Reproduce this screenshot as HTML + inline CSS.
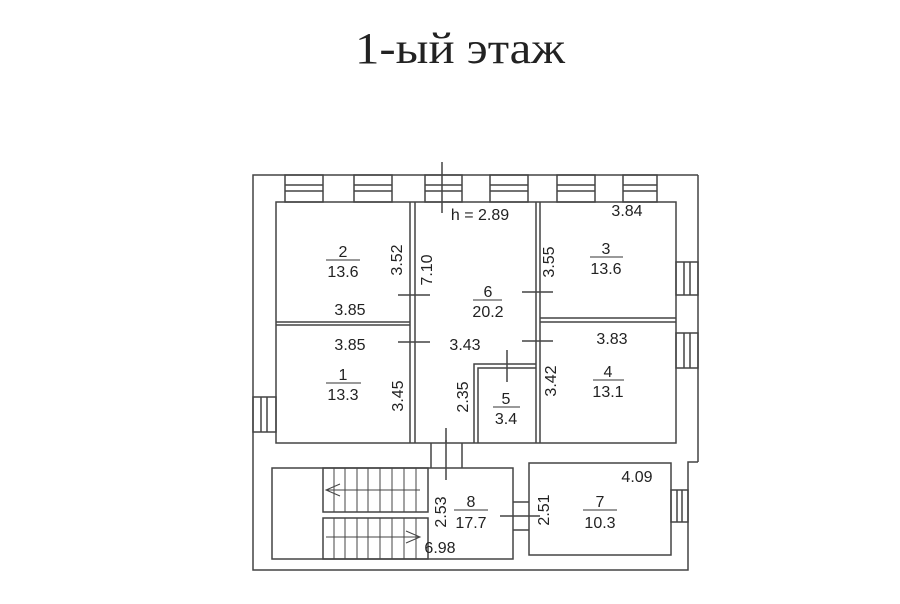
<!DOCTYPE html>
<html><head><meta charset="utf-8"><style>
html,body{margin:0;padding:0;background:#fff;}
svg{display:block;}
text{font-family:"Liberation Sans",sans-serif;fill:#222;}
</style></head><body>
<svg width="900" height="604" viewBox="0 0 900 604" xmlns="http://www.w3.org/2000/svg">
<rect width="900" height="604" fill="#fff"/>
<text x="355" y="63" style="font-family:'Liberation Serif',serif" font-size="44" textLength="210" lengthAdjust="spacingAndGlyphs" fill="#333">1-ый этаж</text>
<g stroke="#444" stroke-width="1.5" fill="none">
<polyline points="698,175 253,175 253,570 688,570 688,462 698,462"/>
<line x1="698" y1="175" x2="698" y2="462"/>
<rect x="276" y="202" width="400" height="241"/>
<line x1="410" y1="202" x2="410" y2="443"/><line x1="415" y1="202" x2="415" y2="443"/>
<line x1="536" y1="202" x2="536" y2="443"/><line x1="540" y1="202" x2="540" y2="443"/>
<line x1="276" y1="322" x2="410" y2="322"/><line x1="276" y1="325" x2="410" y2="325"/>
<line x1="540" y1="318" x2="676" y2="318"/><line x1="540" y1="322" x2="676" y2="322"/>
<polyline points="474,443 474,364 536,364"/>
<polyline points="478,443 478,368 536,368"/>
<g>
<rect x="285" y="175" width="38" height="27"/><line x1="285" y1="185" x2="323" y2="185"/><line x1="285" y1="191" x2="323" y2="191"/>
<rect x="354" y="175" width="38" height="27"/><line x1="354" y1="185" x2="392" y2="185"/><line x1="354" y1="191" x2="392" y2="191"/>
<rect x="425" y="175" width="37" height="27"/><line x1="425" y1="185" x2="462" y2="185"/><line x1="425" y1="191" x2="462" y2="191"/>
<rect x="490" y="175" width="38" height="27"/><line x1="490" y1="185" x2="528" y2="185"/><line x1="490" y1="191" x2="528" y2="191"/>
<rect x="557" y="175" width="38" height="27"/><line x1="557" y1="185" x2="595" y2="185"/><line x1="557" y1="191" x2="595" y2="191"/>
<rect x="623" y="175" width="34" height="27"/><line x1="623" y1="185" x2="657" y2="185"/><line x1="623" y1="191" x2="657" y2="191"/>
</g>
<rect x="676" y="262" width="22" height="33"/><line x1="684" y1="262" x2="684" y2="295"/><line x1="690" y1="262" x2="690" y2="295"/>
<rect x="676" y="333" width="22" height="35"/><line x1="684" y1="333" x2="684" y2="368"/><line x1="690" y1="333" x2="690" y2="368"/>
<rect x="253" y="397" width="23" height="35"/><line x1="261" y1="397" x2="261" y2="432"/><line x1="267" y1="397" x2="267" y2="432"/>
<rect x="671" y="490" width="17" height="32"/><line x1="677" y1="490" x2="677" y2="522"/><line x1="682" y1="490" x2="682" y2="522"/>
<line x1="431" y1="443" x2="431" y2="468"/><line x1="462" y1="443" x2="462" y2="468"/>
<line x1="446" y1="440" x2="446" y2="480"/>
<line x1="442" y1="162" x2="442" y2="213"/>
<rect x="272" y="468" width="241" height="91"/>
<rect x="323" y="468" width="105" height="44"/>
<rect x="323" y="518" width="105" height="41"/>
<g stroke-width="1">
<line x1="334" y1="468" x2="334" y2="512"/><line x1="345" y1="468" x2="345" y2="512"/><line x1="357" y1="468" x2="357" y2="512"/><line x1="368" y1="468" x2="368" y2="512"/><line x1="380" y1="468" x2="380" y2="512"/><line x1="392" y1="468" x2="392" y2="512"/><line x1="404" y1="468" x2="404" y2="512"/><line x1="416" y1="468" x2="416" y2="512"/>
<line x1="334" y1="518" x2="334" y2="559"/><line x1="345" y1="518" x2="345" y2="559"/><line x1="357" y1="518" x2="357" y2="559"/><line x1="368" y1="518" x2="368" y2="559"/><line x1="380" y1="518" x2="380" y2="559"/><line x1="392" y1="518" x2="392" y2="559"/><line x1="404" y1="518" x2="404" y2="559"/><line x1="416" y1="518" x2="416" y2="559"/>
<line x1="326" y1="490" x2="420" y2="490"/><polyline points="340,484 326,490 340,496"/>
<line x1="326" y1="537" x2="420" y2="537"/><polyline points="406,531 420,537 406,543"/>
</g>
<rect x="529" y="463" width="142" height="92"/>
<line x1="513" y1="502" x2="529" y2="502"/><line x1="513" y1="530" x2="529" y2="530"/>
<line x1="500" y1="516" x2="540" y2="516"/>
<line x1="398" y1="295" x2="430" y2="295"/><line x1="522" y1="292" x2="553" y2="292"/>
<line x1="398" y1="342" x2="430" y2="342"/><line x1="522" y1="341" x2="553" y2="341"/>
<line x1="507" y1="350" x2="507" y2="382"/><line x1="446" y1="428" x2="446" y2="443"/>
</g>
<g stroke="#333" stroke-width="1">
<line x1="326" y1="260" x2="360" y2="260"/><line x1="473" y1="300" x2="502" y2="300"/>
<line x1="590" y1="257" x2="623" y2="257"/><line x1="326" y1="383" x2="361" y2="383"/>
<line x1="493" y1="407" x2="520" y2="407"/><line x1="593" y1="380" x2="624" y2="380"/>
<line x1="454" y1="510" x2="488" y2="510"/><line x1="583" y1="510" x2="617" y2="510"/>
</g>
<g font-size="16" text-anchor="middle">
<text x="343" y="257">2</text><text x="343" y="277">13.6</text>
<text x="488" y="297">6</text><text x="488" y="317">20.2</text>
<text x="606" y="254">3</text><text x="606" y="274">13.6</text>
<text x="343" y="380">1</text><text x="343" y="400">13.3</text>
<text x="506" y="404">5</text><text x="506" y="424">3.4</text>
<text x="608" y="377">4</text><text x="608" y="397">13.1</text>
<text x="471" y="507">8</text><text x="471" y="528">17.7</text>
<text x="600" y="507">7</text><text x="600" y="528">10.3</text>
<text x="480" y="220">h = 2.89</text>
<text x="627" y="216">3.84</text>
<text x="350" y="315">3.85</text>
<text x="350" y="350">3.85</text>
<text x="465" y="350">3.43</text>
<text x="612" y="344">3.83</text>
<text x="440" y="553">6.98</text>
<text x="637" y="482">4.09</text>
<text transform="translate(402,260) rotate(-90)">3.52</text>
<text transform="translate(432,270) rotate(-90)">7.10</text>
<text transform="translate(554,262) rotate(-90)">3.55</text>
<text transform="translate(403,396) rotate(-90)">3.45</text>
<text transform="translate(468,397) rotate(-90)">2.35</text>
<text transform="translate(556,381) rotate(-90)">3.42</text>
<text transform="translate(446,512) rotate(-90)">2.53</text>
<text transform="translate(549,510) rotate(-90)">2.51</text>
</g>
</svg>
</body></html>
